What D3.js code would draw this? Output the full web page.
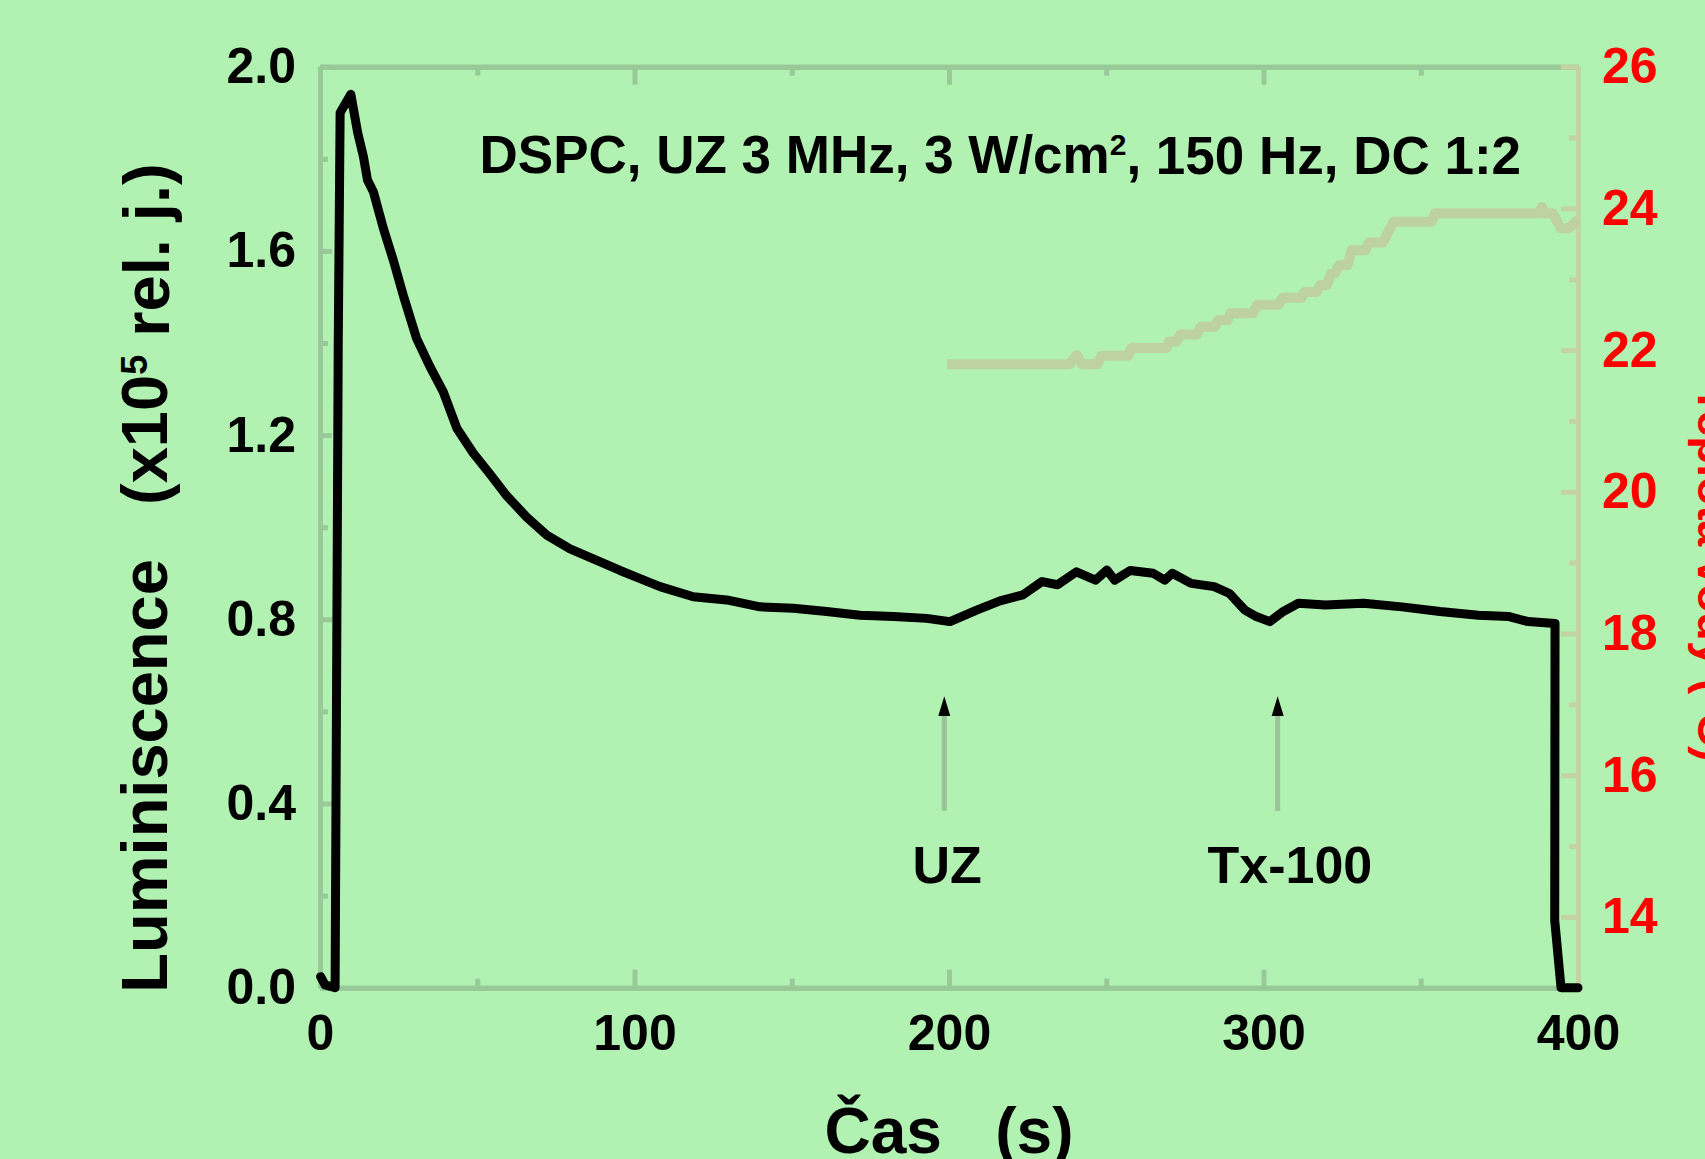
<!DOCTYPE html>
<html>
<head>
  <meta charset="utf-8">
  <!-- Load d3.js -->
  <script src="https://d3js.org/d3.v7.min.js"></script>
  <style>
    body { margin: 0; background: #b1f1b2; }
    text { font-family: "Liberation Sans", Arial, sans-serif; font-weight: bold; }
  </style>
</head>
<body>
  <div id="my_dataviz"></div>
  <script>

    // luminescence (x10^5 rel. j.) vs time (s)
    const lumTime = [0.2, 1.6, 4.8, 5.3, 5.8, 6.4, 9.8, 12.0, 13.8, 15.1, 17.0, 20.1, 23.3, 26.5, 30.7,
      35.0, 39.2, 43.5, 48.7, 54.1, 59.4, 65.7, 72.1, 79.5, 86.9, 95.4, 101.2, 108.1, 118.7, 129.3,
      139.9, 150.5, 161.1, 171.7, 182.3, 192.9, 200.3, 208.8, 216.2, 223.5, 229.6, 234.5, 240.5,
      246.6, 250.2, 252.7, 257.6, 264.9, 268.6, 271.0, 277.0, 284.3, 289.2, 291.6, 294.1, 297.7,
      302.0, 306.3, 311.1, 319.7, 331.8, 344.0, 356.1, 368.3, 378.1, 384.1, 392.7, 392.6, 394.6, 400];
    const lumValue = [0.024, 0.006, 0.0, 0.7, 1.4, 1.90, 1.94, 1.856, 1.805, 1.754, 1.728, 1.65, 1.58, 1.503, 1.41,
      1.348, 1.294, 1.215, 1.161, 1.115, 1.068, 1.022, 0.983, 0.953, 0.931, 0.906, 0.89, 0.871, 0.849, 0.842,
      0.827, 0.824, 0.817, 0.809, 0.806, 0.802, 0.795, 0.82, 0.84, 0.853, 0.882, 0.875, 0.903,
      0.885, 0.907, 0.885, 0.906, 0.90, 0.885, 0.90, 0.878, 0.871, 0.856, 0.838, 0.82, 0.806,
      0.795, 0.817, 0.835, 0.831, 0.835, 0.827, 0.817, 0.809, 0.806, 0.795, 0.791, 0.146, 0.0, 0.0];

    // water temperature (°C) vs time (s)
    const tempTime = [199.4, 238.3, 240.7, 242.3, 247.2, 248.5, 256.9, 258.0, 269.1, 270.0, 272.3, 273.5,
      278.8, 280.0, 284.5, 285.5, 288.6, 289.5, 296.7, 298.0, 304.8, 306.0, 312.1, 313.0, 316.9, 318.0,
      320.2, 321.5, 322.6, 324.0, 326.7, 328.0, 332.4, 333.5, 338.0, 341.3, 353.4, 354.5, 387.5, 388.5,
      389.5, 392.0, 394.5, 397.0, 400];
    const tempValue = [21.8, 21.8, 21.93, 21.8, 21.8, 21.92, 21.92, 22.03, 22.03, 22.12, 22.12, 22.22,
      22.22, 22.33, 22.33, 22.42, 22.42, 22.52, 22.52, 22.64, 22.64, 22.74, 22.74, 22.82, 22.82, 22.92,
      22.92, 23.08, 23.08, 23.2, 23.2, 23.41, 23.41, 23.52, 23.52, 23.81, 23.81, 23.93, 23.93, 24.02,
      23.93, 23.93, 23.72, 23.72, 23.84];

    // ticks
    const xMajor = [0, 100, 200, 300, 400];
    const xMinor = [50, 150, 250, 350];
    const yMajor = [0, 0.4, 0.8, 1.2, 1.6, 2.0];
    const yMinor = [0.2, 0.6, 1.0, 1.4, 1.8];
    const tMajor = [14, 16, 18, 20, 22, 24, 26];
    const tMinor = [13, 15, 17, 19, 21, 23, 25];

    // annotations (arrows at the time of the additions)
    const markTime = [198.5, 304.5];
    const markLabelTime = [199.4, 308.4];
    const markLabel = ["UZ", "Tx-100"];

    var margin = { top: 66.7, right: 127, bottom: 171.3, left: 320 },
      width = 1705 - margin.left - margin.right,
      height = 1159 - margin.top - margin.bottom;

    var root = d3.select("#my_dataviz")
      .append("svg")
      .attr("width", 1705)
      .attr("height", 1159);

    root.append("rect")
      .attr("width", 1705)
      .attr("height", 1159)
      .attr("fill", "#b1f1b2");

    var svg = root.append("g")
      .attr("transform", "translate(" + margin.left + "," + margin.top + ")");

    var x = d3.scaleLinear().domain([0, 400]).range([0, width]);
    var y = d3.scaleLinear().domain([0, 2]).range([height, 0]);
    var yT = d3.scaleLinear().domain([13, 26]).range([height, 0]);

    var frameColor = "#99c999";
    var rightColor = "#c3d3a3";

    function styleAxis(g, color, labelColor) {
      g.select(".domain").attr("stroke", color).attr("stroke-width", 5);
      g.selectAll(".tick line").attr("stroke", color).attr("stroke-width", 5);
      g.selectAll(".tick text")
        .attr("fill", labelColor || "black")
        .style("font-size", "50px")
        .style("font-family", "'Liberation Sans', Arial, sans-serif")
        .style("font-weight", "bold");
    }

    // bottom axis
    svg.append("g")
      .attr("transform", "translate(0," + height + ")")
      .call(d3.axisBottom(x).tickValues(xMinor).tickSize(-9).tickSizeOuter(0).tickFormat(""))
      .call(styleAxis, frameColor);
    svg.append("g")
      .attr("transform", "translate(0," + height + ")")
      .call(d3.axisBottom(x).tickValues(xMajor).tickSize(-18).tickSizeOuter(0).tickPadding(26).tickFormat(d3.format("d")))
      .call(styleAxis, frameColor)
      .selectAll(".tick text").attr("dy", "0.72em");

    // top axis
    svg.append("g")
      .call(d3.axisTop(x).tickValues(xMinor).tickSize(-9).tickSizeOuter(0).tickFormat(""))
      .call(styleAxis, frameColor);
    svg.append("g")
      .call(d3.axisTop(x).tickValues(xMajor).tickSize(-18).tickSizeOuter(0).tickFormat(""))
      .call(styleAxis, frameColor);

    // left axis
    svg.append("g")
      .call(d3.axisLeft(y).tickValues(yMinor).tickSize(-8).tickSizeOuter(0).tickFormat(""))
      .call(styleAxis, frameColor);
    svg.append("g")
      .call(d3.axisLeft(y).tickValues(yMajor).tickSize(-12).tickSizeOuter(0).tickPadding(24).tickFormat(d3.format(".1f")))
      .call(styleAxis, frameColor);

    // right axis (temperature)
    svg.append("g")
      .attr("transform", "translate(" + width + ",0)")
      .call(d3.axisRight(yT).tickValues(tMinor).tickSize(-9).tickSizeOuter(0).tickFormat(""))
      .call(styleAxis, rightColor);
    svg.append("g")
      .attr("transform", "translate(" + width + ",0)")
      .call(d3.axisRight(yT).tickValues(tMajor).tickSize(-17).tickSizeOuter(0).tickPadding(24).tickFormat(d3.format("d")))
      .call(styleAxis, rightColor, "#ff0000");

    // temperature line
    var tempData = tempTime.map(function (t, i) { return { t: t, v: tempValue[i] }; });
    svg.append("path")
      .datum(tempData)
      .attr("d", d3.line().x(function (d) { return x(d.t) }).y(function (d) { return yT(d.v) }))
      .attr("fill", "none")
      .attr("stroke", "#bdd2a0")
      .attr("stroke-width", 10)
      .attr("stroke-linejoin", "round");

    // luminescence line
    var lumData = lumTime.map(function (t, i) { return { t: t, v: lumValue[i] }; });
    svg.append("path")
      .datum(lumData)
      .attr("d", d3.line().x(function (d) { return x(d.t) }).y(function (d) { return y(d.v) }))
      .attr("fill", "none")
      .attr("stroke", "black")
      .attr("stroke-width", 9)
      .attr("stroke-linejoin", "round")
      .attr("stroke-linecap", "round");

    // arrows + labels
    markTime.forEach(function (t, i) {
      svg.append("line")
        .attr("x1", x(t)).attr("x2", x(t))
        .attr("y1", y(0.384)).attr("y2", y(0.59))
        .attr("stroke", "#98c498")
        .attr("stroke-width", 5);
      svg.append("path")
        .attr("d", "M" + x(t) + "," + y(0.633) + "L" + (x(t) + 6) + "," + y(0.59) + "L" + (x(t) - 6) + "," + y(0.59) + "Z")
        .attr("fill", "black");
      svg.append("text")
        .attr("x", x(markLabelTime[i]))
        .attr("y", y(0.227))
        .attr("text-anchor", "middle")
        .style("font-size", "52px")
        .text(markLabel[i]);
    });

    // title inside the plot
    var title = svg.append("text")
      .attr("x", 159.5)
      .attr("y", 106.5)
      .style("font-size", "53px");
    title.append("tspan").text("DSPC, UZ 3 MHz, 3 W/cm");
    title.append("tspan").attr("dy", "-0.62em").style("font-size", "30px").text("2");
    title.append("tspan").attr("dy", "0.36em").text(", 150 Hz, DC 1:2");

    // axis titles
    var yLabel = root.append("text")
      .attr("transform", "translate(167,578) rotate(-90)")
      .attr("text-anchor", "middle")
      .style("font-size", "65px")
      .style("white-space", "pre");
    yLabel.append("tspan").text("Luminiscence   (x10");
    yLabel.append("tspan").attr("dy", "-0.55em").style("font-size", "36px").text("5");
    yLabel.append("tspan").attr("dy", "0.34em").text(" rel. j.)");

    root.append("text")
      .attr("x", 949)
      .attr("y", 1153)
      .attr("text-anchor", "middle")
      .style("font-size", "64px")
      .style("white-space", "pre")
      .text("Čas   (s)");

    // right axis title, mostly beyond the right edge as in the original slide
    root.append("text")
      .attr("transform", "translate(1698,386) rotate(90)")
      .attr("fill", "#ff0000")
      .style("font-size", "46px")
      .text("Teplota vody (°C)");

  </script>
</body>
</html>
